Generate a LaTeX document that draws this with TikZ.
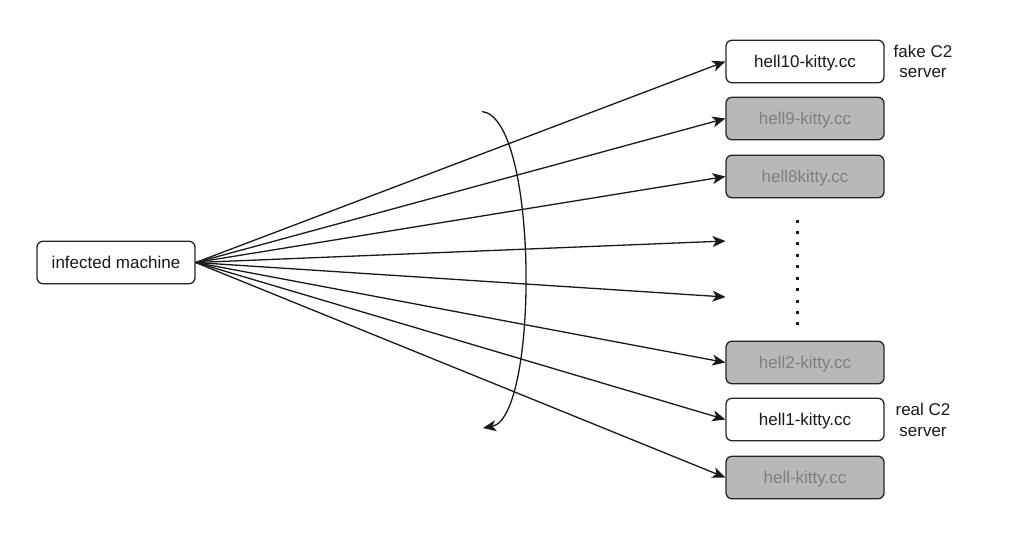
\documentclass[tikz,border=0pt]{standalone}
\usepackage{fontspec}
\setmainfont{Liberation Sans}
\usetikzlibrary{arrows.meta}
\tikzset{
  hostbox/.style = {draw = black!85, line width = 1.3pt, rounded corners = 6pt, minimum width = 158pt, minimum height = 42.5pt, inner sep = 0pt, text height = 11.6pt, text depth = 0pt, font = \fontsize{17}{20}\selectfont},
  activebox/.style = {hostbox, fill = white, text = black!90},
  fakebox/.style = {hostbox, fill = black!28, text = black!50},
  sidenote/.style = {align = center, font = \fontsize{17}{20.6}\selectfont, text = black!90},
  query/.style = {draw = black!90, line width = 1.3pt, -{Stealth[length = 13pt, width = 11pt, inset = 3.5pt]}}
}
\begin{document}
\begin{tikzpicture}[x = 1pt, y = -1pt]
\useasboundingbox (0, 0) rectangle (1024, 539);

\node [activebox] (infected) at (116, 262.5) {infected machine};

\node [activebox] (hellten) at (805, 61.5) {hell10-kitty.cc};
\node [fakebox] (hellnine) at (805, 118.5) {hell9-kitty.cc};
\node [fakebox] (helleight) at (805, 176.5) {hell8kitty.cc};
\node [fakebox] (helltwo) at (805, 362.5) {hell2-kitty.cc};
\node [activebox] (hellone) at (805, 419.5) {hell1-kitty.cc};
\node [fakebox] (hell) at (805, 477.5) {hell-kitty.cc};

\coordinate (gapa) at (725.5, 241);
\coordinate (gapb) at (725.5, 297);

\node [sidenote] (fakenote) at (923, 61.5) {fake C2\\server};
\node [sidenote] (realnote) at (923, 420) {real C2\\server};

\foreach \target in {hellten.west, hellnine.west, helleight.west, gapa, gapb, helltwo.west, hellone.west, hell.west}
  \draw [query] (infected.east) -- (\target);

\coordinate (sweepa) at (482, 111.5);
\coordinate (sweepb) at (483, 428);
\draw [query] (sweepa) .. controls (539, 118) and (539, 418) .. (sweepb);

\coordinate (dotsa) at (797, 219.5);
\coordinate (dotsb) at (797, 325.5);
\draw [line width = 3pt, black!90, dash pattern = on 3pt off 8.44pt] (dotsa) -- (dotsb);
\end{tikzpicture}
\end{document}
